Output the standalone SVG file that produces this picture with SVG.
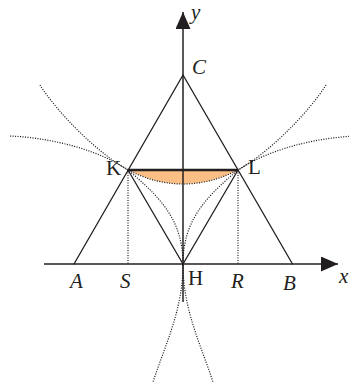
<svg xmlns="http://www.w3.org/2000/svg" width="349" height="389" viewBox="0 0 349 389">
<style>
.solid{fill:none;stroke:#231f20;stroke-width:1.3;stroke-linecap:round}
.axis{fill:none;stroke:#231f20;stroke-width:1.5}
.dot{fill:none;stroke:#231f20;stroke-width:1.2;stroke-dasharray:1.1 1.4}
.lbl{font-family:"Liberation Serif","Times New Roman",serif;font-size:21px;fill:#231f20}
.it{font-style:italic}
</style>
<defs>
<marker id="arr" viewBox="0 0 17 15" refX="17" refY="7.5" markerWidth="17" markerHeight="15" markerUnits="userSpaceOnUse" orient="auto">
<path d="M0,0 L17,7.5 L0,15 Z" fill="#231f20"/>
</marker>
</defs>
<g id="region">
<path d="M128,170 Q183,198 238,170 Z" fill="#fbbf86"/>
</g>
<g id="connectors">
<line class="axis" x1="44" y1="264" x2="338" y2="264" marker-end="url(#arr)"/>
<line class="axis" x1="183" y1="302" x2="183" y2="12" marker-end="url(#arr)"/>
<path class="solid" d="M74,264 L183,75 L292.5,264"/>
<path class="solid" d="M128,170 L183,264 L238,170"/>
<line x1="128" y1="170" x2="238" y2="170" stroke="#231f20" stroke-width="2.6"/>
<line class="dot" x1="128" y1="170" x2="128" y2="264"/>
<line class="dot" x1="238" y1="170" x2="238" y2="264"/>
<path class="dot" d="M10,136 C55,138 100,151 128,170 Q183,198 238,170 C266,151 311,138 356,136"/>
<path class="dot" d="M40,85 C57,112 96,152 128,170 C160,197 183,220 183,264 C183,310 165,345 153,382"/>
<path class="dot" d="M326,85 C309,112 270,152 238,170 C206,197 183,220 183,264 C183,310 201,345 213,382"/>
</g>
<g id="labels">
<text class="lbl it" x="191" y="19">y</text>
<text class="lbl it" x="339" y="283">x</text>
<text class="lbl it" x="192" y="74">C</text>
<text class="lbl" x="106" y="175">K</text>
<text class="lbl" x="248" y="174">L</text>
<text class="lbl it" x="70" y="288">A</text>
<text class="lbl it" x="120" y="288">S</text>
<text class="lbl" x="188" y="285">H</text>
<text class="lbl it" x="231" y="288">R</text>
<text class="lbl it" x="283" y="290">B</text>
</g>
</svg>
